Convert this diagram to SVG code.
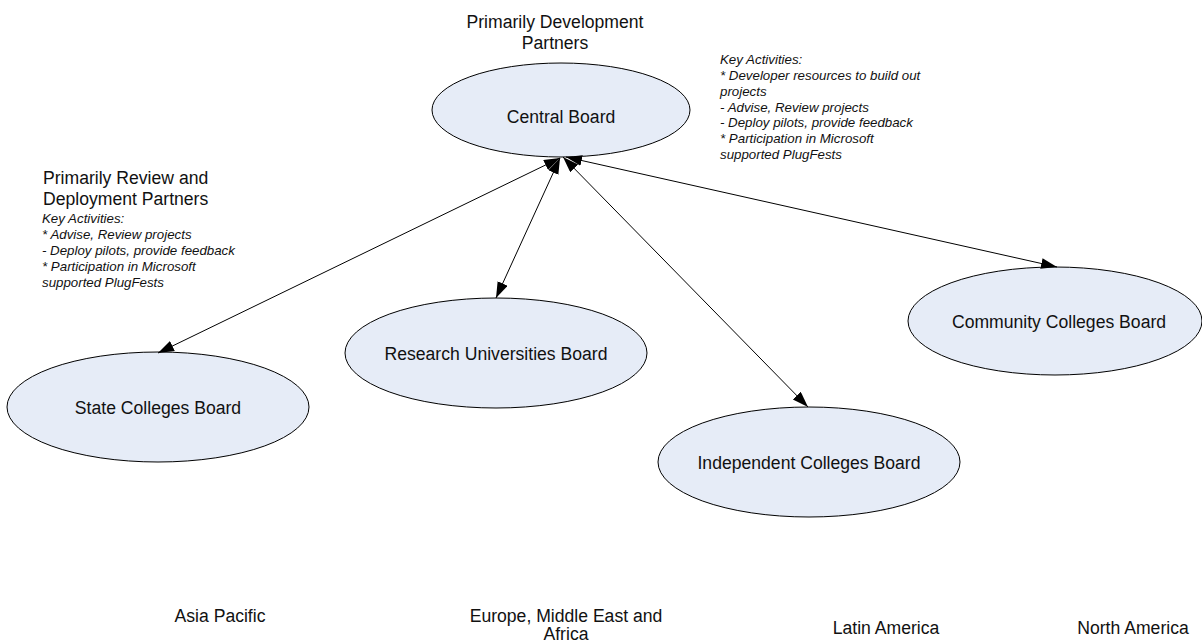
<svg xmlns="http://www.w3.org/2000/svg" width="1202" height="642" viewBox="0 0 1202 642">
<style>
.node ellipse{fill:#E6ECF7;stroke:#000;stroke-width:1}
.lbl{font-family:"Liberation Sans",Arial,sans-serif;font-size:17.6px;fill:#111;text-anchor:middle}
.hdr{font-family:"Liberation Sans",Arial,sans-serif;font-size:17.6px;fill:#111}
.note{font-family:"Liberation Sans",Arial,sans-serif;font-size:13.3px;font-style:italic;fill:#111}
.conn line{stroke:#000;stroke-width:1;marker-start:url(#ah);marker-end:url(#ah)}
</style>
<defs>
<marker id="ah" markerUnits="userSpaceOnUse" markerWidth="18" markerHeight="13" refX="16" refY="5.5" orient="auto-start-reverse">
<path d="M0,0 L16,5.5 L0,11 z" fill="#000"/>
</marker>
</defs>
<rect width="1202" height="642" fill="#fff"/>

<g id="nodes" class="node">
<g id="central-board"><ellipse cx="561" cy="110" rx="129" ry="47"/><text class="lbl" x="561" y="123">Central Board</text></g>
<g id="state-colleges"><ellipse cx="158" cy="407" rx="151" ry="55"/><text class="lbl" x="158" y="414">State Colleges Board</text></g>
<g id="research-universities"><ellipse cx="496" cy="353" rx="151" ry="55"/><text class="lbl" x="496" y="360">Research Universities Board</text></g>
<g id="independent-colleges"><ellipse cx="809" cy="462" rx="151" ry="55"/><text class="lbl" x="809" y="469">Independent Colleges Board</text></g>
<g id="community-colleges"><ellipse cx="1055" cy="321" rx="147" ry="54"/><text class="lbl" x="1059" y="328">Community Colleges Board</text></g>
</g>

<g id="connectors" class="conn">
<line x1="560" y1="158" x2="158" y2="353"/>
<line x1="560" y1="158" x2="496" y2="298"/>
<line x1="563" y1="157" x2="808" y2="407"/>
<line x1="566" y1="157" x2="1057" y2="267"/>
</g>

<g id="dev-partners">
<text class="lbl" x="555" y="28">Primarily Development</text>
<text class="lbl" x="555" y="49">Partners</text>
</g>
<g id="dev-activities" class="note">
<text x="720" y="64">Key Activities:</text>
<text x="720" y="80">* Developer resources to build out</text>
<text x="720" y="95.5">projects</text>
<text x="720" y="111.5">- Advise, Review projects</text>
<text x="720" y="127">- Deploy pilots, provide feedback</text>
<text x="720" y="143">* Participation in Microsoft</text>
<text x="720" y="159">supported PlugFests</text>
</g>
<g id="review-partners">
<text class="hdr" x="43" y="184">Primarily Review and</text>
<text class="hdr" x="43" y="205">Deployment Partners</text>
</g>
<g id="review-activities" class="note">
<text x="42" y="223">Key Activities:</text>
<text x="42" y="239">* Advise, Review projects</text>
<text x="42" y="255">- Deploy pilots, provide feedback</text>
<text x="42" y="271">* Participation in Microsoft</text>
<text x="42" y="287">supported PlugFests</text>
</g>

<g id="regions">
<text class="lbl" x="220" y="622">Asia Pacific</text>
<text class="lbl" x="566" y="622">Europe, Middle East and</text>
<text class="lbl" x="566" y="640">Africa</text>
<text class="lbl" x="886" y="634">Latin America</text>
<text class="lbl" x="1133" y="634">North America</text>
</g>
</svg>
